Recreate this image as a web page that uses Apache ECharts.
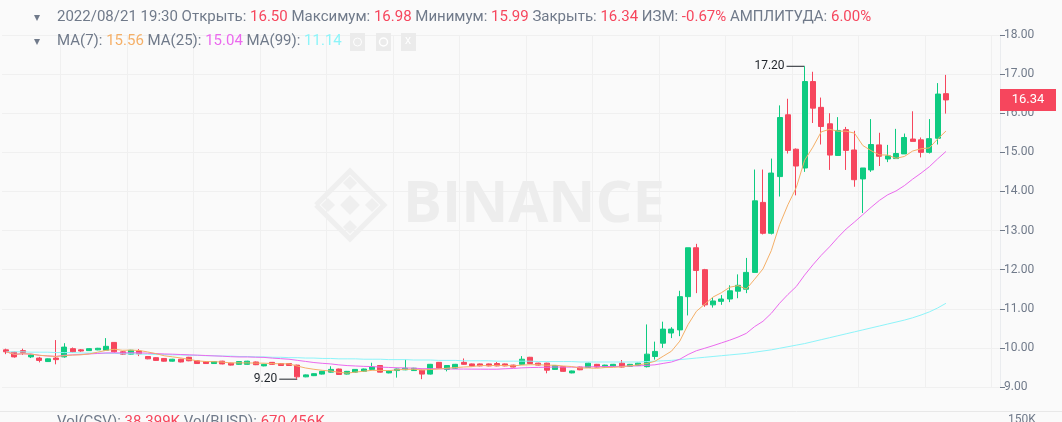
<!DOCTYPE html>
<html><head><meta charset="utf-8">
<script src="https://cdn.jsdelivr.net/npm/echarts@6/dist/echarts.min.js"></script>
<style>html,body{margin:0;padding:0;background:#fafafa}#c{width:1062px;height:422px}</style>
</head><body><div id="c"></div>
<script>
// [open, close, low, high]
const candles = [
[9.95,9.90,9.84,9.98],[9.89,9.77,9.75,9.90],[9.93,9.88,9.82,9.98],[9.77,9.82,9.74,9.84],
[9.74,9.68,9.63,9.77],[9.65,9.72,9.64,9.73],[9.74,9.70,9.58,10.20],[9.77,10.02,9.75,10.12],
[9.98,9.90,9.88,10.01],[9.95,9.92,9.90,9.97],[9.93,9.98,9.92,9.99],[9.95,9.99,9.94,10.00],
[9.94,10.04,9.93,10.25],[10.14,9.90,9.88,10.15],[9.90,9.84,9.82,9.92],[9.84,9.94,9.83,9.95],
[9.92,9.85,9.79,9.97],[9.78,9.72,9.71,9.79],[9.75,9.68,9.67,9.76],[9.73,9.66,9.65,9.74],
[9.66,9.71,9.65,9.72],[9.71,9.64,9.63,9.72],[9.76,9.67,9.66,9.77],[9.67,9.60,9.59,9.68],
[9.65,9.60,9.59,9.66],[9.60,9.65,9.59,9.66],[9.66,9.59,9.58,9.67],[9.61,9.56,9.55,9.62],
[9.58,9.65,9.57,9.66],[9.58,9.66,9.57,9.67],[9.64,9.57,9.56,9.65],[9.54,9.58,9.53,9.59],
[9.63,9.58,9.57,9.64],[9.60,9.55,9.54,9.61],[9.60,9.55,9.54,9.61],[9.56,9.26,9.20,9.57],
[9.26,9.31,9.25,9.32],[9.29,9.34,9.28,9.35],[9.33,9.40,9.32,9.41],[9.38,9.45,9.37,9.53],
[9.46,9.32,9.31,9.47],[9.33,9.40,9.32,9.41],[9.38,9.45,9.37,9.46],[9.40,9.46,9.39,9.47],
[9.45,9.51,9.44,9.62],[9.55,9.38,9.37,9.56],[9.36,9.41,9.35,9.42],[9.42,9.46,9.24,9.47],
[9.44,9.48,9.43,9.70],[9.42,9.48,9.41,9.49],[9.43,9.33,9.20,9.44],[9.33,9.58,9.32,9.59],
[9.63,9.48,9.47,9.64],[9.45,9.55,9.40,9.56],[9.48,9.58,9.47,9.59],[9.63,9.58,9.57,9.73],
[9.59,9.54,9.53,9.60],[9.59,9.54,9.53,9.60],[9.59,9.54,9.53,9.60],[9.60,9.54,9.53,9.64],
[9.59,9.54,9.53,9.60],[9.56,9.51,9.50,9.57],[9.58,9.71,9.57,9.79],[9.76,9.60,9.59,9.77],
[9.61,9.56,9.55,9.62],[9.61,9.43,9.35,9.62],[9.45,9.55,9.44,9.56],[9.52,9.40,9.39,9.53],
[9.36,9.41,9.35,9.42],[9.51,9.44,9.43,9.52],[9.50,9.61,9.49,9.62],[9.58,9.51,9.50,9.59],
[9.51,9.56,9.50,9.57],[9.53,9.58,9.52,9.59],[9.61,9.51,9.50,9.69],[9.53,9.58,9.52,9.59],
[9.55,9.61,9.54,9.62],[9.52,9.84,9.50,10.60],[9.78,9.91,9.70,10.16],[10.12,10.48,10.00,10.67],
[10.38,10.48,10.25,10.53],[10.46,11.31,10.30,11.46],[11.31,12.56,10.83,12.56],[12.56,11.98,11.40,12.66],
[12.00,11.10,11.05,12.02],[11.10,11.20,11.03,11.30],[11.19,11.25,11.10,11.35],[11.25,11.46,11.17,11.60],
[11.45,11.60,11.27,11.88],[11.50,11.93,11.40,12.30],[11.93,13.76,11.93,14.56],[13.72,12.93,12.90,14.56],
[12.93,14.47,12.90,14.84],[14.38,15.89,13.87,16.20],[15.96,15.05,14.97,16.37],[15.08,14.65,13.90,15.10],
[14.60,16.81,14.50,17.20],[16.81,16.13,15.75,17.06],[16.15,15.66,15.20,16.40],[15.73,14.93,14.55,16.00],
[14.92,15.56,14.92,15.90],[15.58,15.05,14.55,15.65],[15.06,14.30,14.12,15.55],[14.32,14.60,13.45,14.60],
[14.55,15.20,14.50,15.85],[15.19,14.90,14.65,15.50],[14.83,14.91,14.75,15.19],[14.84,14.97,14.84,15.60],
[14.96,15.38,14.96,15.48],[15.34,15.28,15.28,16.05],[15.32,15.00,14.87,15.38],[15.00,15.35,14.97,15.85],
[15.36,16.49,15.20,16.77],[16.50,16.34,15.99,16.98]
];
const ma99 = [
9.90,9.90,9.90,9.89,9.89,9.89,9.88,9.88,9.88,9.87,9.87,9.87,9.86,9.86,9.85,9.85,9.84,9.84,9.83,9.83,
9.82,9.82,9.81,9.81,9.80,9.80,9.79,9.79,9.78,9.78,9.77,9.77,9.76,9.76,9.75,9.75,9.74,9.74,9.73,9.73,
9.72,9.72,9.72,9.71,9.71,9.71,9.70,9.70,9.70,9.69,9.69,9.69,9.68,9.68,9.68,9.67,9.67,9.67,9.67,9.66,
9.66,9.66,9.66,9.66,9.65,9.65,9.65,9.65,9.65,9.64,9.64,9.64,9.64,9.64,9.64,9.64,9.64,9.65,9.66,9.67,
9.68,9.70,9.72,9.74,9.76,9.78,9.80,9.82,9.84,9.86,9.89,9.92,9.95,9.99,10.03,10.07,10.11,10.16,10.21,10.26,
10.31,10.36,10.41,10.46,10.51,10.56,10.61,10.66,10.71,10.77,10.84,10.92,11.02,11.14
];
const blanks = 6;
const categories = candles.map((_, i) => String(i)).concat(Array.from({length: blanks}, (_, i) => 'b' + i));

function ma(n) {
  const closes = candles.map(c => c[1]);
  return closes.map((_, i) => {
    const s = Math.max(0, i - n + 1);
    const w = closes.slice(s, i + 1);
    return +(w.reduce((a, b) => a + b, 0) / w.length).toFixed(3);
  });
}
const ma7 = ma(7), ma25 = ma(25);

const UP = '#0ECB81', DOWN = '#F6465D', GRAY = '#707A8A';
const chart = echarts.init(document.getElementById('c'));
const lineS = (name, data, color) => ({name, type: 'line', data, symbol: 'none', smooth: false,
  lineStyle: {width: 1, color}, z: 3, silent: true});
chart.setOption({
  backgroundColor: '#fafafa',
  animation: false,
  grid: {left: 2, right: 62, top: 35, bottom: 35},
  xAxis: {type: 'category', data: categories, boundaryGap: true,
    axisLine: {show: false}, axisTick: {show: false}, axisLabel: {show: false},
    splitLine: {show: true, interval: i => i % 8 === 7, lineStyle: {color: '#f0f0f0'}}},
  yAxis: {type: 'value', position: 'right', min: 9, max: 18, interval: 1,
    axisLine: {show: true, lineStyle: {color: '#eaecef'}},
    axisTick: {show: true, length: 5, lineStyle: {color: GRAY}},
    axisLabel: {color: GRAY, fontSize: 12, fontFamily: 'Roboto', margin: 4, formatter: v => v.toFixed(2)},
    splitLine: {lineStyle: {color: '#f0f0f0'}}},
  series: [
    {type: 'candlestick', data: candles, barWidth: '66%', z: 2,
      itemStyle: {color: UP, color0: DOWN, borderColor: UP, borderColor0: DOWN, borderWidth: 1}},
    lineS('MA99', ma99, '#8DF4F9'),
    lineS('MA25', ma25, '#EB6AEE'),
    lineS('MA7', ma7, '#F5B068')
  ]
});

let hiI = 0, loI = 0;
candles.forEach((c, i) => { if (c[3] > candles[hiI][3]) hiI = i; if (c[2] < candles[loI][2]) loI = i; });
const hp = chart.convertToPixel({gridIndex: 0}, [hiI, candles[hiI][3]]);
const lp = chart.convertToPixel({gridIndex: 0}, [loI, candles[loI][2]]);
const last = candles[candles.length - 1][1];
const pp = chart.convertToPixel({gridIndex: 0}, [0, last]);
const tf = 'Roboto', fs = 15;
const rich = {g: {fill: GRAY, fontSize: fs, fontFamily: tf}, r: {fill: DOWN, fontSize: fs, fontFamily: tf},
  o: {fill: '#F5B068', fontSize: fs, fontFamily: tf}, m: {fill: '#EB6AEE', fontSize: fs, fontFamily: tf},
  c: {fill: '#8DF4F9', fontSize: fs, fontFamily: tf}};
chart.setOption({graphic: [
  {type: 'group', x: 350, y: 205, children: [
    {type: 'rect', rotation: Math.PI / 4, shape: {x: -7, y: -7, width: 14, height: 14}, style: {fill: '#efefef'}},
    {type: 'rect', rotation: Math.PI / 4, x: -22, shape: {x: -5, y: -5, width: 10, height: 10}, style: {fill: '#efefef'}},
    {type: 'rect', rotation: Math.PI / 4, x: 22, shape: {x: -5, y: -5, width: 10, height: 10}, style: {fill: '#efefef'}},
    {type: 'rect', rotation: Math.PI / 4, y: 22, shape: {x: -5, y: -5, width: 10, height: 10}, style: {fill: '#efefef'}},
    {type: 'rect', rotation: Math.PI / 4, y: -22, shape: {x: -5, y: -5, width: 10, height: 10}, style: {fill: '#efefef'}},
    {type: 'polyline', shape: {points: [[-34, 0], [0, -34], [34, 0], [0, 34], [-34, 0]]}, style: {fill: 'none', stroke: '#efefef', lineWidth: 5}}
  ]},
  {type: 'text', x: 403, y: 205, style: {text: 'BINANCE', fill: '#ededed', font: 'bold 58px "Open Sans"', textVerticalAlign: 'middle'}},
  {type: 'text', x: 34, y: 12, style: {text: '▾', fill: GRAY, fontSize: 12}},
  {type: 'text', x: 57, y: 10, style: {rich, text: '{g|2022/08/21 19:30 Открыть: }{r|16.50}{g| Максимум: }{r|16.98}{g| Минимум: }{r|15.99}{g| Закрыть: }{r|16.34}{g| ИЗМ: }{r|-0.67%}{g| АМПЛИТУДА: }{r|6.00%}'}},
  {type: 'text', x: 34, y: 36, style: {text: '▾', fill: GRAY, fontSize: 12}},
  {type: 'text', x: 57, y: 34, style: {rich, text: '{g|MA(7): }{o|15.56}{g| MA(25): }{m|15.04}{g| MA(99): }{c|11.14}'}},
  {type: 'rect', shape: {x: 350, y: 33, width: 15, height: 18}, style: {fill: '#ebebeb'}},
  {type: 'circle', shape: {cx: 357.5, cy: 42, r: 4}, style: {fill: 'none', stroke: '#fff', lineWidth: 1}},
  {type: 'rect', shape: {x: 376, y: 33, width: 15, height: 18}, style: {fill: '#ebebeb'}},
  {type: 'circle', shape: {cx: 383.5, cy: 42, r: 4}, style: {fill: 'none', stroke: '#fff', lineWidth: 1.5}},
  {type: 'rect', shape: {x: 401, y: 33, width: 15, height: 18}, style: {fill: '#ebebeb'}},
  {type: 'text', x: 405, y: 35, style: {text: 'x', fill: '#fff', fontSize: 12}},
  {type: 'line', shape: {x1: hp[0] - 18, y1: hp[1], x2: hp[0], y2: hp[1]}, style: {stroke: '#1e2329', lineWidth: 1}},
  {type: 'text', x: hp[0] - 20, y: hp[1], style: {text: candles[hiI][3].toFixed(2), fill: '#1e2329', fontSize: 12, fontFamily: tf, textAlign: 'right', textVerticalAlign: 'middle'}},
  {type: 'line', shape: {x1: lp[0] - 18, y1: lp[1], x2: lp[0], y2: lp[1]}, style: {stroke: '#1e2329', lineWidth: 1}},
  {type: 'text', x: lp[0] - 20, y: lp[1], style: {text: candles[loI][2].toFixed(2), fill: '#1e2329', fontSize: 12, fontFamily: tf, textAlign: 'right', textVerticalAlign: 'middle'}},
  {type: 'rect', shape: {x: 1000, y: pp[1] - 11, width: 56, height: 22}, style: {fill: DOWN}, z: 10},
  {type: 'text', x: 1028, y: pp[1], z: 11, style: {text: last.toFixed(2), fill: '#fff', fontSize: 13, fontFamily: tf, textAlign: 'center', textVerticalAlign: 'middle'}},
  {type: 'line', shape: {x1: 0, y1: 411.5, x2: 1062, y2: 411.5}, style: {stroke: '#e8e8e8', lineWidth: 1}, z: 21},
  {type: 'text', x: 57, y: 415, z: 21, style: {rich, text: '{g|Vol(CSV): }{r|38.399K}{g| Vol(BUSD): }{r|670.456K}'}},
  {type: 'text', x: 1008, y: 414, z: 21, style: {text: '150K', fill: GRAY, fontSize: 12, fontFamily: tf}}
]});
</script></body></html>
